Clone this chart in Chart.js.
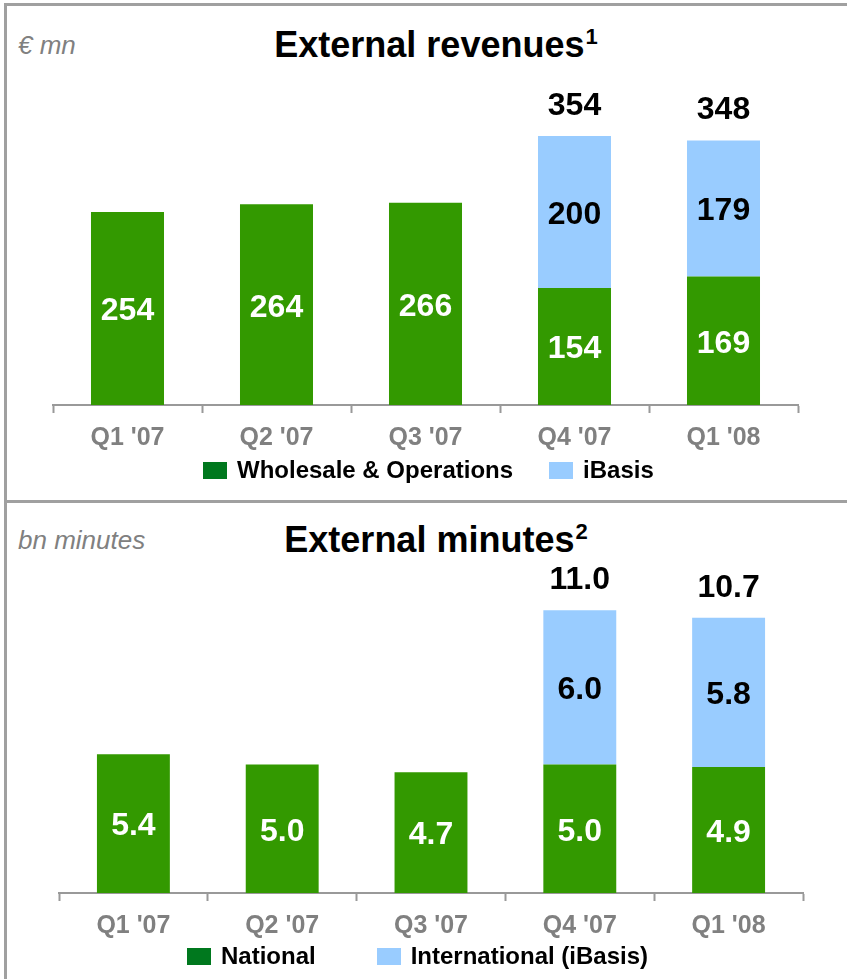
<!DOCTYPE html>
<html>
<head>
<meta charset="utf-8">
<script src="https://cdn.jsdelivr.net/npm/chart.js@4"></script>
<style>
  body { margin: 0; background: #fff; font-family: "Liberation Sans", Arial, sans-serif; }
  #page { position: relative; width: 847px; height: 979px; overflow: hidden; }
  .frame { position: absolute; left: 4px; top: 3px; width: 900px; height: 1000px; border-left: 3px solid #a0a0a0; border-top: 3px solid #a0a0a0; }
  .divider { position: absolute; left: 4px; top: 500px; width: 900px; height: 3px; background: #a0a0a0; }
  .unit { position: absolute; left: 18px; font-size: 26px; font-style: italic; color: #808080; line-height: 28px; }
  .title { position: absolute; left: 0; width: 872px; text-align: center; font-size: 36px; font-weight: bold; color: #000; line-height: 40px; }
  .title sup { font-size: 22px; vertical-align: 0; position: relative; top: -13px; margin-left: 1px; }
  .legend { position: absolute; display: flex; align-items: center; font-size: 24px; font-weight: bold; color: #000; line-height: 28px; }
  .legend .item { display: flex; align-items: center; }
  .legend .sw { width: 24px; height: 17px; margin-right: 10px; }
  canvas { position: absolute; left: 0; }
</style>
</head>
<body>
<div id="page">
  <div class="frame"></div>
  <div class="divider"></div>

  <div class="unit" style="top:31px">€ mn</div>
  <div class="title" style="top:25px">External revenues<sup>1</sup></div>
  <div style="position:absolute;left:0;top:0;width:847px;height:463px"><canvas id="revChart"></canvas></div>
  <div class="legend" id="revLegend" style="left:203px;top:456px;gap:36px"></div>

  <div class="unit" style="top:526px">bn minutes</div>
  <div class="title" style="top:520px">External minutes<sup>2</sup></div>
  <div style="position:absolute;left:0;top:500px;width:847px;height:451px"><canvas id="minChart"></canvas></div>
  <div class="legend" id="minLegend" style="left:187px;top:942px;gap:61px"></div>
</div>

<script>
// categories
const quarters = ["Q1 '07", "Q2 '07", "Q3 '07", "Q4 '07", "Q1 '08"];

// external revenues (€ mn)
const revWholesale = [254, 264, 266, 154, 169];
const revIBasis = [null, null, null, 200, 179];
const revTotals = [null, null, null, '354', '348'];

// external minutes (bn)
const minNational = [5.4, 5.0, 4.7, 5.0, 4.9];
const minInternational = [null, null, null, 6.0, 5.8];
const minTotals = [null, null, null, '11.0', '10.7'];

const GREEN = '#339900';
const GREEN_KEY = '#00781e';
const BLUE = '#99ccff';
const FONT = '"Liberation Sans", Arial, sans-serif';

// draws the values inside the bars and the totals above the stacks
const valueLabels = {
    id: 'valueLabels',
    afterDatasetsDraw(chart, args, opts) {
        const ctx = chart.ctx;
        ctx.save();
        ctx.font = 'bold 32px ' + FONT;
        ctx.textAlign = 'center';
        ctx.textBaseline = 'middle';
        chart.data.datasets.forEach((ds, di) => {
            const meta = chart.getDatasetMeta(di);
            meta.data.forEach((bar, i) => {
                const v = ds.data[i];
                if (v === null) return;
                ctx.fillStyle = ds.labelColor;
                ctx.fillText(opts.format(v), bar.x, (bar.y + bar.base) / 2 + 3);
            });
        });
        const topMeta = chart.getDatasetMeta(chart.data.datasets.length - 1);
        opts.totals.forEach((t, i) => {
            if (!t) return;
            const bar = topMeta.data[i];
            ctx.fillStyle = '#000';
            ctx.fillText(t, bar.x, bar.y - 30);
        });
        ctx.restore();
    }
};

function makeChart(id, labels, lowData, highData, lowName, highName, yMax, padding, totals, format) {
    return new Chart(document.getElementById(id), {
        type: 'bar',
        data: {
            labels: labels,
            datasets: [
                { label: lowName, data: lowData, backgroundColor: GREEN, labelColor: '#fff' },
                { label: highName, data: highData, backgroundColor: BLUE, labelColor: '#000' }
            ]
        },
        options: {
            responsive: true,
            maintainAspectRatio: false,
            animation: false,
            events: [],
            layout: { padding: padding },
            datasets: { bar: { categoryPercentage: 1, barPercentage: 0.49 } },
            scales: {
                x: {
                    stacked: true,
                    grid: { display: true, drawOnChartArea: false, offset: true, tickLength: 8, tickColor: '#999', tickWidth: 2 },
                    border: { display: true, color: '#999', width: 2 },
                    ticks: { color: '#808080', padding: 10, font: { family: FONT, size: 25, weight: 'bold' } }
                },
                y: { stacked: true, display: false, min: 0, max: yMax }
            },
            plugins: {
                legend: { display: false },
                tooltip: { enabled: false },
                valueLabels: { totals: totals, format: format }
            }
        },
        plugins: [valueLabels]
    });
}

function buildLegend(id, names) {
    const el = document.getElementById(id);
    const colors = [GREEN_KEY, BLUE];
    names.forEach((n, i) => {
        const item = document.createElement('div');
        item.className = 'item';
        item.innerHTML = '<span class="sw" style="background:' + colors[i] + '"></span><span>' + n + '</span>';
        el.appendChild(item);
    });
}

makeChart('revChart', quarters, revWholesale, revIBasis, 'Wholesale & Operations', 'iBasis',
    400, { left: 53, right: 49, top: 101, bottom: 0 }, revTotals, v => String(v));
makeChart('minChart', quarters, minNational, minInternational, 'National', 'International (iBasis)',
    14, { left: 59, right: 44, top: 33, bottom: 0 }, minTotals, v => v.toFixed(1));

buildLegend('revLegend', ['Wholesale & Operations', 'iBasis']);
buildLegend('minLegend', ['National', 'International (iBasis)']);
</script>
</body>
</html>
